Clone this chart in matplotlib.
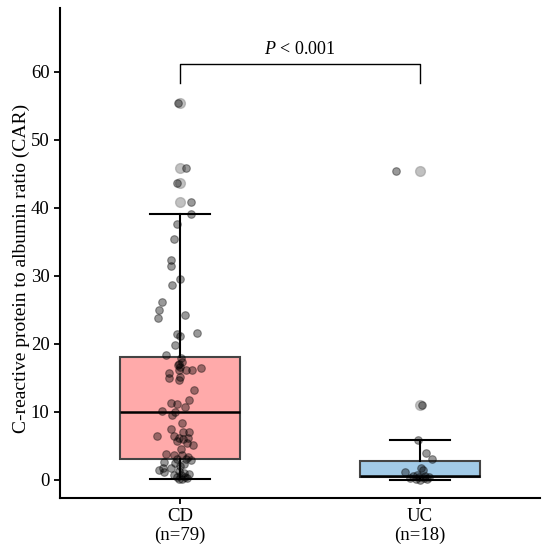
import matplotlib
matplotlib.use("Agg")
import matplotlib.pyplot as plt
import numpy as np

plt.rcParams['font.family'] = ['Liberation Serif', 'DejaVu Serif']
plt.rcParams['mathtext.fontset'] = 'custom'
plt.rcParams['mathtext.it'] = 'Liberation Serif:italic'
plt.rcParams['mathtext.rm'] = 'Liberation Serif'

# CAR values
cd_values = [55.4, 45.9, 43.7, 40.9, 39.1, 37.6, 35.5, 32.4, 31.5, 29.5,
             28.6, 26.2, 25.0, 24.3, 23.8, 21.6, 21.5, 21.2, 19.9, 18.4,
             17.9, 17.4, 17.1, 16.9, 16.6, 16.4, 16.1, 16.1, 16.1, 15.7,
             15.2, 15.0, 14.7, 13.2, 11.7, 11.3, 11.2, 10.7, 10.2, 10.0,
             9.6, 8.4, 7.5, 7.1, 7.0, 6.5, 6.4, 6.2, 6.2, 6.0,
             5.8, 5.5, 5.1, 4.6, 3.8, 3.7, 3.6, 3.4, 3.1, 3.1,
             2.9, 2.7, 2.5, 2.3, 2.0, 1.8, 1.7, 1.5, 1.3, 1.1,
             1.0, 0.9, 0.8, 0.7, 0.5, 0.4, 0.3, 0.2, 0.15]
# horizontal spread of each dot
cd_jitter = [-0.01, 0.025, -0.012, 0.046, 0.046, -0.012, -0.025, -0.038, -0.038, 0.0,
             -0.033, -0.075, -0.088, 0.021, -0.092, 0.07, -0.012, 0.0, -0.021, -0.058,
             0.004, 0.008, -0.004, -0.008, 0.0, 0.088, -0.004, 0.025, 0.05, -0.046,
             0.0, -0.046, -0.004, 0.058, 0.038, -0.038, -0.012, 0.021, -0.075, -0.021,
             -0.033, 0.008, -0.038, 0.013, 0.038, -0.096, -0.025, -0.004, 0.033, 0.013,
             -0.012, 0.029, 0.054, 0.004, -0.058, -0.025, 0.008, 0.033, -0.012, 0.025,
             0.046, -0.067, -0.021, 0.017, 0.0, -0.071, -0.038, -0.088, -0.004, -0.067,
             0.017, 0.038, -0.025, 0.004, 0.021, -0.012, 0.029, 0.008, -0.004]

uc_values = [45.5, 11.0, 5.9, 4.0, 3.1, 1.8, 1.4, 1.2, 0.7, 0.6,
             0.55, 0.5, 0.4, 0.35, 0.3, 0.2, 0.1, 0.05]
uc_jitter = [-0.1, 0.008, -0.008, 0.025, 0.05, 0.004, 0.013, -0.063, -0.013, 0.021,
             -0.029, 0.038, -0.004, -0.042, 0.017, -0.017, 0.029, 0.0]

groups = ["CD\n(n=79)", "UC\n(n=18)"]
box_colors = ["#ffaaaa", "#a2cbe8"]

fig = plt.figure(figsize=(5.5, 5.53), dpi=100)
ax = fig.add_axes([0.109, 0.0995, 0.8727, 0.886])

data = [cd_values, uc_values]
bp = ax.boxplot(data, positions=[0, 1], widths=0.5, patch_artist=True,
                capwidths=0.25,
                boxprops=dict(edgecolor="#444444", linewidth=1.5),
                medianprops=dict(color="black", linewidth=1.8),
                whiskerprops=dict(color="black", linewidth=1.5),
                capprops=dict(color="black", linewidth=1.5),
                flierprops=dict(marker="o", markersize=7, markerfacecolor="#999999",
                                markeredgecolor="#999999", alpha=0.6))
for patch, c in zip(bp["boxes"], box_colors):
    patch.set_facecolor(c)

for i, (vals, jit) in enumerate(zip(data, [cd_jitter, uc_jitter])):
    x = i + np.array(jit)
    ax.scatter(x, vals, s=30, color="black", alpha=0.4, edgecolors="black",
               linewidths=0.8, zorder=3)

# significance bracket
ax.plot([0, 0, 1, 1], [58.4, 61.2, 61.2, 58.4], color="black", linewidth=1.0)
ax.text(0.5, 62.0, "$P$ < 0.001", ha="center", va="bottom", fontsize=13)

ax.set_xlim(-0.5, 1.5)
ax.set_ylim(-2.65, 69.4)
ax.set_yticks([0, 10, 20, 30, 40, 50, 60])
ax.set_xticks([0, 1])
ax.set_xticklabels(groups, linespacing=1.1)
ax.set_ylabel("C-reactive protein to albumin ratio (CAR)", fontsize=14)
ax.yaxis.set_label_coords(-0.063, 0.469)
ax.tick_params(labelsize=13.5, width=1.3, length=4)
for s in ["top", "right"]:
    ax.spines[s].set_visible(False)
for s in ["left", "bottom"]:
    ax.spines[s].set_linewidth(1.5)

plt.savefig("out.png", dpi=100)
